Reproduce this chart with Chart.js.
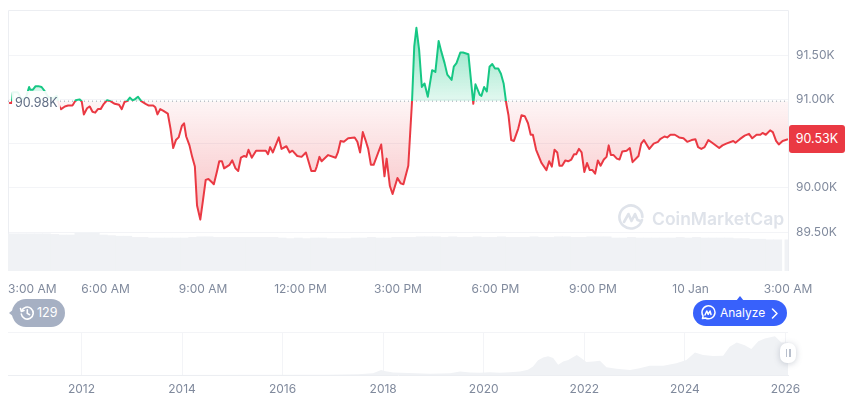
<!DOCTYPE html>
<html><head><meta charset="utf-8">
<script src="https://cdn.jsdelivr.net/npm/chart.js@4/dist/chart.umd.js"></script>
<style>
html,body{margin:0;padding:0;background:#fff;width:860px;height:401px;overflow:hidden;font-family:Inter,sans-serif}
canvas{position:absolute;left:0}
.abs{position:absolute;box-sizing:border-box}
#base{left:12px;top:91px;width:48px;height:19px;background:rgba(255,255,255,.9);color:#616e85;font-size:12.5px;line-height:24px;padding-left:3px;white-space:nowrap}
#now{left:789px;top:125px;width:56px;height:28px;background:#ea3943;border-radius:3px;color:#fff;font-size:12.5px;line-height:28px;text-align:center}
#hist{left:12px;top:299px;width:53px;height:28px;background:#a6b0c3;border-radius:14px;color:#fff;font-size:12.5px;line-height:28px;padding-left:25px}
#histArrow{left:9px;top:309px;width:0;height:0;border-top:4px solid transparent;border-bottom:4px solid transparent;border-right:5px solid #a6b0c3}
#ana{left:693px;top:300px;width:94px;height:26px;background:#3861fb;border-radius:13px;color:#fff;font-size:12px;line-height:26px;padding-left:27px;white-space:nowrap}
#anaArrow{left:736px;top:296px;width:0;height:0;border-left:4px solid transparent;border-right:4px solid transparent;border-bottom:5px solid #3861fb}
#mark{left:652px;top:208px;color:#dfe3ea;font-size:17.5px;font-weight:600;line-height:22px;white-space:nowrap}
#handle{left:780px;top:343px;width:16px;height:20px;background:#fff;border-radius:7px;box-shadow:0 1px 6px rgba(88,102,126,.3)}
#handle i{position:absolute;top:6px;width:1.5px;height:8px;background:#b8bfcc}
</style></head><body>
<canvas id="main" width="860" height="300" style="top:0;width:860px;height:300px"></canvas>
<canvas id="nav" width="860" height="76" style="top:325px;width:860px;height:76px"></canvas>
<div class="abs" id="base">90.98K</div>
<div class="abs" id="now">90.53K</div>
<svg class="abs" style="left:617px;top:204px" width="28" height="28" viewBox="0 0 28 28" fill="none" stroke="#dfe3ea" stroke-width="2.6" stroke-linecap="round" stroke-linejoin="round"><path d="M25 16a11.5 11.5 0 1 1 .4-3"/><path d="M7 18l4.5-8 3 7 3.5-7 2.5 6 3 1"/></svg>
<div class="abs" id="mark">CoinMarketCap</div>
<div class="abs" id="histArrow"></div>
<div class="abs" id="hist">129</div>
<svg class="abs" style="left:19px;top:305px" width="16" height="16" viewBox="0 0 16 16" fill="none" stroke="#fff" stroke-width="1.6" stroke-linecap="round" stroke-linejoin="round"><path d="M2.6 6a6 6 0 1 1-.3 3"/><path d="M1.5 3.5 2.4 6.4 5 5.6"/><path d="M8.3 4.8v3.6l2.3 1.3"/></svg>
<div class="abs" id="anaArrow"></div>
<div class="abs" id="ana">Analyze</div>
<svg class="abs" style="left:700px;top:305px" width="16" height="16" viewBox="0 0 16 16" fill="none" stroke="#fff" stroke-width="1.5" stroke-linecap="round" stroke-linejoin="round"><path d="M2.5 13.5l.6-2.6A6.5 6.5 0 1 1 5.4 13z"/><path d="M5 10l1.8-4 1.4 3.4L10 6l1 3.5"/></svg>
<svg class="abs" style="left:771px;top:308px" width="8" height="11" viewBox="0 0 8 11" fill="none" stroke="#fff" stroke-width="1.5" stroke-linecap="round" stroke-linejoin="round"><path d="M1.5 1l4.5 4.5L1.5 10"/></svg>
<div class="abs" id="handle"><i style="left:5.5px"></i><i style="left:9px"></i></div>
<script>
// minutes since 3:00 AM
const times=[2,7,9,18,25,33,39,41,46,51,56,62,67,74,83,90,95,98,105,111,119,125,132,136,140,146,151,156,161,166,171,177,183,189,197,205,210,215,220,225,230,234,240,246,254,260,268,272,276,281,287,295,300,305,310,315,321,325,329,335,340,345,349,355,360,365,370,377,380,386,390,395,399,409,414,420,425,430,436,440,444,450,458,465,476,480,484,489,500,505,514,520,525,534,542,550,560,567,570,575,579,591,605,609,614,620,628,640,645,650,655,660,665,670,675,689,695,699,705,710,719,725,730,739,746,750,754,759,764,769,775,783,789,795,800,806,811,819,823,828,835,840,850,859,863,871,874,879,884,889,894,899,905,910,915,920,924,929,934,942,948,954,960,965,969,975,985,994,999,1004,1009,1014,1018,1023,1029,1034,1040,1045,1049,1054,1059,1064,1069,1074,1079,1084,1089,1094,1100,1105,1109,1113,1118,1124,1129,1134,1142,1148,1153,1164,1169,1174,1184,1192,1200,1204,1212,1217,1223,1231,1239,1247,1254,1262,1269,1274,1280,1286,1293,1300,1313,1319,1326,1339,1343,1351,1360,1368,1374,1382,1389,1393,1399,1407,1412,1418,1423,1430,1440];
// price, thousands of USD
const prices=[90.96,90.96,91.08,91.08,91.00,91.02,91.14,91.11,91.11,91.15,91.15,91.14,91.10,91.03,91.01,91.04,90.92,90.89,90.92,90.93,90.93,90.99,91.00,90.98,90.83,90.90,90.92,90.86,90.85,90.89,90.89,90.95,90.99,90.98,90.95,90.94,90.89,90.97,90.98,91.02,90.99,91.00,91.03,90.98,90.95,90.93,90.93,90.91,90.83,90.89,90.87,90.84,90.67,90.45,90.54,90.57,90.70,90.73,90.58,90.48,90.35,90.24,89.80,89.64,89.86,90.09,90.10,90.06,90.04,90.19,90.30,90.30,90.22,90.26,90.31,90.22,90.19,90.34,90.36,90.35,90.43,90.34,90.42,90.42,90.42,90.38,90.46,90.40,90.57,90.44,90.47,90.40,90.42,90.36,90.35,90.40,90.19,90.19,90.24,90.35,90.30,90.37,90.34,90.40,90.53,90.52,90.56,90.57,90.52,90.40,90.63,90.54,90.44,90.26,90.26,90.49,90.13,90.33,90.02,89.93,90.11,90.05,90.04,90.25,90.99,91.60,91.81,91.56,91.14,91.18,91.03,91.33,91.31,91.66,91.54,91.41,91.28,91.22,91.37,91.41,91.53,91.53,91.51,90.95,91.17,91.05,91.04,91.14,91.09,91.37,91.40,91.35,91.35,91.29,91.18,90.95,90.82,90.54,90.53,90.67,90.82,90.81,90.73,90.60,90.60,90.43,90.28,90.20,90.30,90.24,90.43,90.40,90.25,90.25,90.31,90.30,90.32,90.38,90.38,90.44,90.40,90.18,90.28,90.20,90.20,90.16,90.31,90.25,90.32,90.35,90.48,90.37,90.37,90.33,90.32,90.41,90.42,90.45,90.29,90.36,90.50,90.54,90.44,90.50,90.52,90.55,90.58,90.57,90.60,90.60,90.57,90.56,90.52,90.54,90.55,90.46,90.44,90.46,90.54,90.51,90.45,90.48,90.50,90.53,90.51,90.55,90.59,90.61,90.56,90.60,90.60,90.62,90.60,90.65,90.63,90.53,90.49,90.53,90.55];
const baseline=90.98;
// volume per quarter hour, estimated
const volumes=[62,62,62,62,62,62,61,60,60,63,63,63,60,59,58,58,56,56,55,55,55,55,55,56,57,57,56,56,56,56,56,56,56,56,55,54,55,54,55,55,54,54,54,55,55,56,55,55,56,56,56,57,57,57,56,57,56,56,57,56,56,57,56,56,56,57,56,56,57,57,56,56,57,57,57,55,55,56,55,55,55,55,55,56,55,56,55,55,55,55,54,54,53,53,52,52];
const lastVolume=[52];
const xTickMinutes=[45,180,360,540,720,900,1080,1260,1440];
const xTickLabels=["3:00 AM","6:00 AM","9:00 AM","12:00 PM","3:00 PM","6:00 PM","9:00 PM","10 Jan","3:00 AM"];
const yTicks=[89.5,90,90.5,91,91.5];
// all-time navigator
const navYears=[2010.54,2013,2016.9,2017.5,2017.8,2017.96,2018.05,2018.2,2018.5,2018.93,2019.13,2019.33,2019.53,2019.73,2019.92,2020.12,2020.32,2020.52,2020.72,2020.88,2020.98,2021.08,2021.18,2021.28,2021.38,2021.48,2021.58,2021.68,2021.85,2021.95,2022.04,2022.18,2022.31,2022.44,2022.64,2022.91,2023.1,2023.3,2023.57,2023.83,2024.03,2024.2,2024.36,2024.56,2024.76,2024.89,2025.03,2025.19,2025.32,2025.46,2025.59,2025.79,2025.92,2026.05];
const navPrices=[0,0.2,0.8,2.5,6,16,12,8,6.5,4,5,6,11,8.5,7,9,7,9,11,17,28,48,57,61,55,33,44,49,65,54,42,44,46,25,20,16,22,30,30,38,49,73,65,62,63,92,106,97,85,110,119,126,106,106];
const navTicks=[2012,2014,2016,2018,2020,2022,2024,2026];

const RED='#ea3943',GREEN='#16c784',GRID='#f3f4f7',EDGE='#eceef2',TXT='#808a9d',VOL='#f0f2f5';
const font={family:'Inter',size:12};
const frame={id:'frame',beforeDatasetsDraw(c){const a=c.chartArea,x=c.ctx;x.save();x.strokeStyle=EDGE;x.lineWidth=1;x.beginPath();x.moveTo(a.left+.5,a.bottom);x.lineTo(a.left+.5,a.top+.5);x.lineTo(a.right+.5,a.top+.5);x.lineTo(a.right+.5,a.bottom);x.stroke();x.restore();}};

const mainChart=new Chart(document.getElementById('main'),{
  data:{datasets:[
    {type:'line',order:0,data:times.map((t,i)=>({x:t,y:prices[i]})),borderWidth:2,pointRadius:0,tension:0,borderJoinStyle:'round',
     borderColor(ctx){const c=ctx.chart;if(!c.chartArea)return RED;const g=c.ctx.createLinearGradient(0,c.chartArea.top,0,c.chartArea.bottom);const s=(c.scales.y.getPixelForValue(baseline)-c.chartArea.top)/c.chartArea.height;g.addColorStop(0,GREEN);g.addColorStop(s,GREEN);g.addColorStop(s,RED);g.addColorStop(1,RED);return g;},
     fill:false},
    {type:'line',order:1,data:[0,1440].map(t=>({x:t,y:baseline})),borderColor:'#9aa3b2',borderWidth:1,borderDash:[1,3],pointRadius:0,fill:false},
    {type:'bar',order:2,yAxisID:'v',data:volumes.map((v,i)=>({x:15*i-4,y:v})),backgroundColor:VOL,barThickness:8.2,grouped:false},
    {type:'bar',order:2,yAxisID:'v',data:lastVolume.map(v=>({x:1437,y:v})),backgroundColor:VOL,barThickness:3,grouped:false}
  ]},
  options:{responsive:false,animation:false,events:[],
    layout:{padding:{left:8,top:10,right:0,bottom:0}},
    plugins:{legend:{display:false},tooltip:{enabled:false}},
    scales:{
      x:{type:'linear',min:0,max:1440,offset:false,grid:{display:false},border:{display:false},
        afterBuildTicks(s){s.ticks=xTickMinutes.map(v=>({value:v}));},
        afterFit(s){s.height=29;s.paddingLeft=0;s.paddingRight=0;},
        ticks:{font,color:TXT,padding:3,maxRotation:0,autoSkip:false,callback(v){return xTickLabels[xTickMinutes.indexOf(v)];}}},
      y:{position:'right',min:89.059,max:92.011,border:{display:false},grid:{color:GRID,drawTicks:false},
        afterBuildTicks(s){s.ticks=yTicks.map(v=>({value:v}));},
        afterFit(s){s.width=72;s.paddingTop=0;s.paddingBottom=0;},
        ticks:{font,color:TXT,padding:8,crossAlign:'near',callback(v){return v.toFixed(2)+'K';}}},
      v:{display:false,min:0,max:435}
    }},
  plugins:[frame]
});
(function(){
  const c=mainChart,x=c.ctx,y=c.scales.y,b=y.getPixelForValue(baseline);
  const up=x.createLinearGradient(0,y.getPixelForValue(91.81),0,b);
  up.addColorStop(0,'rgba(22,199,132,.5)');up.addColorStop(1,'rgba(22,199,132,.12)');
  const dn=x.createLinearGradient(0,b,0,y.getPixelForValue(89.64));
  dn.addColorStop(0,'rgba(234,57,67,.05)');dn.addColorStop(1,'rgba(234,57,67,.32)');
  c.data.datasets[0].fill={target:{value:baseline},above:up,below:dn};
  c.update('none');
})();

new Chart(document.getElementById('nav'),{
  data:{datasets:[{type:'line',data:navYears.map((t,i)=>({x:t,y:navPrices[i]})),borderWidth:0,pointRadius:0,tension:0,backgroundColor:VOL,fill:'origin'}]},
  options:{responsive:false,animation:false,events:[],
    layout:{padding:{left:8,top:7,right:72,bottom:0}},
    plugins:{legend:{display:false},tooltip:{enabled:false}},
    scales:{
      x:{type:'linear',min:2010.54,max:2026.05,border:{color:EDGE},grid:{color:GRID,drawTicks:false},
        afterBuildTicks(s){s.ticks=navTicks.map(v=>({value:v}));},
        afterFit(s){s.height=26;s.paddingLeft=0;s.paddingRight=0;},
        ticks:{font,color:TXT,padding:7,maxRotation:0,autoSkip:false,callback(v){return String(v);}}},
      y:{display:false,min:0,max:140}
    }},
  plugins:[{id:'topLine',beforeDatasetsDraw(c){const a=c.chartArea,x=c.ctx;x.save();x.strokeStyle=GRID;x.beginPath();x.moveTo(a.left,a.top+.5);x.lineTo(a.right,a.top+.5);x.stroke();x.restore();}}]
});
</script>
</body></html>
